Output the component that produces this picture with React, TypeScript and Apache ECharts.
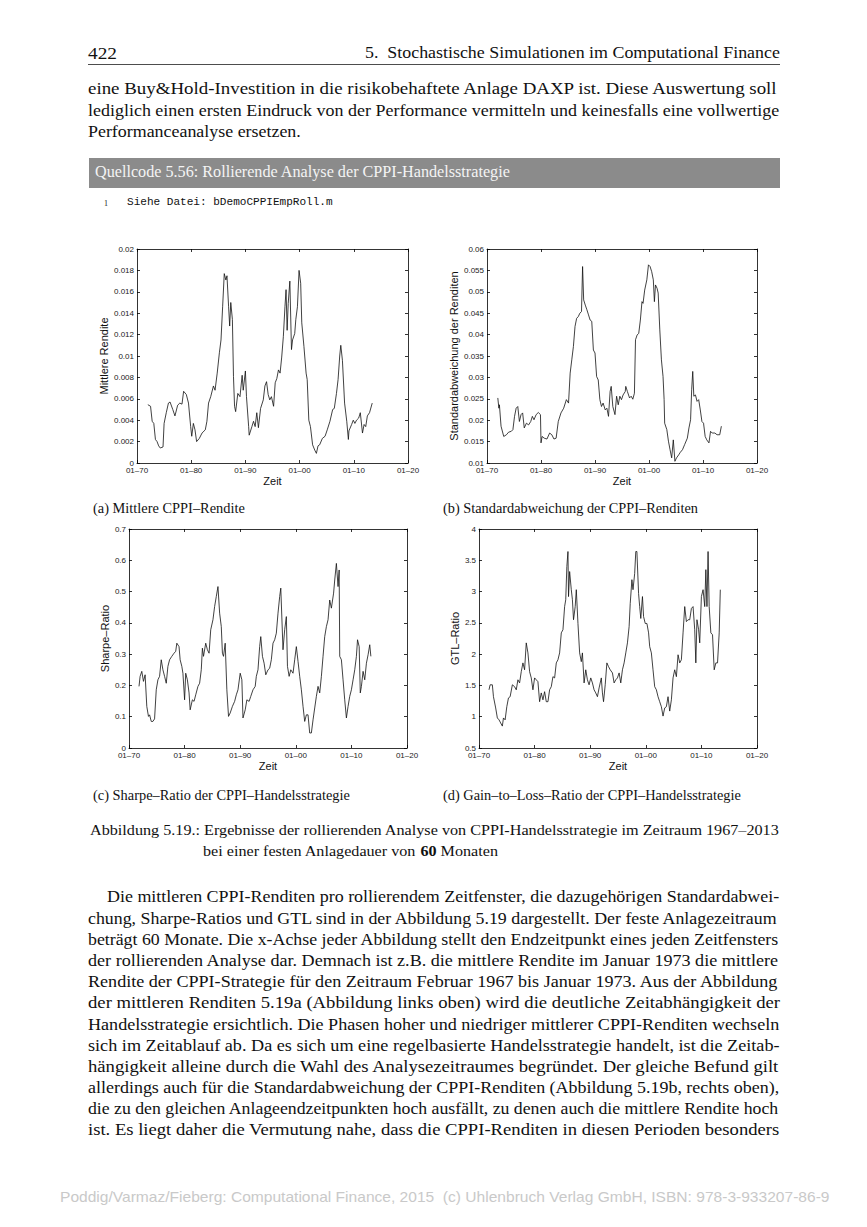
import React, { useEffect, useRef } from "react";
import * as echarts from "echarts";

// ---------- data ----------
const xTickLabels = ["01–70", "01–80", "01–90", "01–00", "01–10", "01–20"];

const yearsA = [1972.0,1972.5,1972.8,1973.1,1973.4,1973.7,1974.0,1974.3,1974.8,1975.0,1975.4,1975.8,1976.1,1976.6,1977.0,1977.5,1977.9,1978.3,1978.6,1979.1,1979.5,1979.9,1980.1,1980.4,1980.7,1981.0,1981.5,1982.0,1982.6,1982.9,1983.2,1983.6,1984.1,1984.4,1984.8,1985.2,1985.5,1985.8,1986.1,1986.4,1986.6,1986.9,1987.1,1987.3,1987.6,1987.8,1988.0,1988.2,1988.6,1989.0,1989.4,1989.6,1990.0,1990.2,1990.6,1990.7,1991.2,1991.5,1991.8,1992.1,1992.4,1992.8,1993.3,1993.6,1993.9,1994.2,1994.5,1994.8,1995.2,1995.5,1995.8,1996.1,1996.4,1996.7,1997.0,1997.3,1997.5,1997.7,1997.9,1998.2,1998.5,1998.7,1999.1,1999.3,1999.6,1999.9,2000.2,2000.4,2000.8,2001.2,2001.4,2001.7,2002.0,2002.4,2002.8,2003.1,2003.4,2003.7,2004.2,2004.7,2005.1,2005.6,2006.1,2006.4,2006.8,2007.1,2007.4,2007.6,2007.9,2008.0,2008.3,2008.7,2009.0,2009.1,2009.6,2009.9,2010.2,2010.5,2010.9,2011.2,2011.6,2011.9,2012.2,2012.5,2012.9,2013.4];
const renditeA = [0.00545,0.0053,0.0039,0.0037,0.0022,0.002,0.0016,0.0014,0.0015,0.0037,0.0047,0.0056,0.0057,0.005,0.0044,0.0054,0.0056,0.0055,0.0067,0.0064,0.0056,0.0034,0.0025,0.0037,0.0031,0.002,0.0023,0.0028,0.0031,0.0039,0.0056,0.0062,0.0072,0.0068,0.0084,0.0103,0.0115,0.0146,0.0177,0.0171,0.0175,0.0146,0.0128,0.015,0.0134,0.0081,0.0053,0.0048,0.0065,0.0062,0.0082,0.0068,0.0086,0.0062,0.0034,0.0026,0.0034,0.0039,0.0034,0.0047,0.0033,0.0051,0.0059,0.0072,0.0076,0.0064,0.0059,0.0062,0.0053,0.0075,0.0079,0.0087,0.0084,0.0099,0.0118,0.0146,0.0162,0.0124,0.0149,0.017,0.0106,0.0115,0.0121,0.0134,0.0146,0.018,0.0168,0.0131,0.0109,0.0084,0.0078,0.004,0.0034,0.0017,0.0012,0.0009,0.0016,0.0017,0.0023,0.0025,0.0031,0.0039,0.005,0.0051,0.0065,0.0078,0.01,0.011,0.0096,0.0086,0.0056,0.0039,0.0022,0.003,0.0036,0.004,0.0037,0.004,0.0042,0.0047,0.0028,0.0036,0.0034,0.0044,0.0047,0.0056];

const yearsB = [1972.0,1972.2,1972.3,1972.6,1973.1,1973.6,1974.0,1974.5,1974.8,1975.1,1975.4,1975.7,1976.0,1976.3,1976.6,1976.9,1977.3,1977.7,1978.1,1978.4,1978.7,1979.1,1979.5,1979.9,1980.0,1980.2,1980.6,1981.1,1981.6,1982.0,1982.4,1982.8,1983.2,1983.7,1984.2,1984.7,1985.1,1985.4,1985.7,1986.0,1986.3,1986.6,1986.9,1987.2,1987.5,1987.7,1987.9,1988.2,1988.5,1988.8,1989.1,1989.4,1989.7,1990.0,1990.3,1990.6,1990.9,1991.2,1991.5,1991.9,1992.2,1992.5,1992.8,1993.0,1993.3,1993.7,1994.0,1994.3,1994.6,1994.9,1995.2,1995.6,1995.7,1996.0,1996.4,1996.7,1997.0,1997.3,1997.5,1997.8,1998.1,1998.4,1998.7,1998.9,1999.2,1999.6,1999.9,2000.2,2000.5,2000.8,2001.0,2001.2,2001.5,2001.7,2002.0,2002.3,2002.6,2002.8,2002.9,2003.3,2003.6,2003.9,2004.2,2004.5,2004.8,2005.1,2005.5,2005.8,2006.2,2006.6,2007.1,2007.4,2007.7,2007.9,2008.1,2008.3,2008.6,2008.9,2009.2,2009.5,2009.8,2010.1,2010.4,2010.7,2011.1,2011.4,2011.7,2012.2,2012.6,2013.1,2013.4];
const stdB = [0.0252,0.0228,0.0236,0.0186,0.0162,0.0166,0.0172,0.0174,0.0178,0.0209,0.0228,0.0232,0.0197,0.0213,0.0217,0.0182,0.0193,0.0189,0.0197,0.0209,0.0201,0.0213,0.0218,0.0213,0.0147,0.0162,0.0158,0.0156,0.017,0.0166,0.0156,0.0158,0.0197,0.0217,0.0228,0.0248,0.024,0.031,0.0341,0.0372,0.0419,0.0438,0.0442,0.045,0.0454,0.0559,0.0481,0.0469,0.0458,0.0446,0.0434,0.0431,0.0364,0.0357,0.0302,0.0294,0.0248,0.0232,0.024,0.0224,0.0228,0.0209,0.0267,0.0279,0.0232,0.0213,0.0256,0.0236,0.0256,0.0248,0.0259,0.0267,0.0279,0.0267,0.0252,0.0256,0.0249,0.0263,0.0388,0.0399,0.0403,0.0434,0.0477,0.0473,0.0504,0.0528,0.0563,0.0559,0.0547,0.0528,0.0477,0.0516,0.0508,0.0497,0.0411,0.0341,0.0302,0.0248,0.0193,0.0178,0.0151,0.0131,0.0112,0.0154,0.0104,0.0112,0.0119,0.0125,0.0131,0.0143,0.0158,0.0182,0.0201,0.0271,0.0314,0.0256,0.0259,0.0244,0.0248,0.0224,0.0197,0.0193,0.0162,0.0154,0.0147,0.0174,0.017,0.017,0.0166,0.0166,0.0186];

const yearsC = [1971.8,1972.0,1972.3,1972.6,1972.9,1973.2,1973.5,1973.7,1974.0,1974.3,1974.6,1974.9,1975.2,1975.5,1975.8,1976.1,1976.4,1976.7,1977.0,1977.3,1977.7,1978.1,1978.4,1978.6,1979.0,1979.2,1979.5,1979.7,1980.0,1980.2,1980.5,1980.8,1981.0,1981.4,1981.7,1982.0,1982.4,1982.7,1983.0,1983.2,1983.4,1983.8,1984.1,1984.4,1984.7,1985.1,1985.4,1985.7,1986.0,1986.3,1986.6,1986.8,1987.0,1987.3,1987.6,1987.9,1988.2,1988.6,1989.0,1989.3,1989.6,1990.0,1990.3,1990.5,1990.9,1991.2,1991.6,1991.9,1992.3,1992.7,1992.9,1993.2,1993.5,1993.7,1994.0,1994.3,1994.6,1995.0,1995.3,1995.6,1995.9,1996.2,1996.5,1996.8,1997.1,1997.3,1997.7,1998.0,1998.3,1998.5,1998.8,1999.1,1999.5,1999.8,2000.1,2000.4,2000.7,2001.0,2001.3,2001.6,2001.9,2002.2,2002.5,2002.8,2003.1,2003.4,2003.7,2004.0,2004.3,2004.6,2004.9,2005.2,2005.5,2005.8,2006.1,2006.4,2006.8,2007.0,2007.3,2007.6,2007.8,2007.9,2008.2,2008.5,2008.8,2009.1,2009.4,2009.7,2010.0,2010.3,2010.6,2010.9,2011.1,2011.4,2011.6,2011.8,2012.1,2012.4,2012.7,2013.0,2013.3,2013.5];
const sharpeC = [0.197,0.229,0.245,0.213,0.234,0.133,0.101,0.106,0.085,0.085,0.093,0.186,0.218,0.229,0.282,0.25,0.229,0.207,0.261,0.282,0.293,0.303,0.309,0.335,0.324,0.282,0.261,0.239,0.154,0.239,0.218,0.176,0.122,0.154,0.149,0.17,0.197,0.207,0.25,0.319,0.293,0.335,0.314,0.303,0.378,0.41,0.452,0.484,0.516,0.431,0.388,0.303,0.293,0.335,0.186,0.101,0.112,0.133,0.149,0.17,0.186,0.239,0.218,0.096,0.122,0.154,0.149,0.165,0.186,0.197,0.229,0.25,0.324,0.356,0.293,0.271,0.234,0.25,0.255,0.282,0.335,0.346,0.367,0.431,0.484,0.511,0.314,0.378,0.42,0.261,0.229,0.25,0.239,0.282,0.324,0.277,0.229,0.186,0.133,0.085,0.106,0.106,0.048,0.048,0.09,0.128,0.165,0.197,0.176,0.229,0.293,0.356,0.388,0.41,0.473,0.447,0.495,0.537,0.59,0.516,0.569,0.293,0.282,0.218,0.154,0.096,0.133,0.165,0.186,0.218,0.25,0.293,0.346,0.324,0.176,0.197,0.245,0.218,0.271,0.298,0.33,0.293];

const yearsD = [1971.8,1972.0,1972.4,1972.6,1973.0,1973.3,1973.6,1973.9,1974.2,1974.4,1974.7,1975.0,1975.3,1975.6,1976.0,1976.4,1976.7,1977.0,1977.3,1977.6,1977.9,1978.2,1978.5,1978.8,1979.1,1979.4,1979.7,1980.0,1980.3,1980.6,1980.9,1981.2,1981.5,1981.8,1982.1,1982.4,1982.7,1983.0,1983.3,1983.6,1983.9,1984.2,1984.5,1984.8,1985.1,1985.4,1985.6,1985.8,1986.0,1986.1,1986.3,1986.6,1986.8,1987.0,1987.3,1987.5,1987.8,1988.1,1988.4,1988.6,1988.9,1989.2,1989.5,1989.8,1990.1,1990.4,1990.7,1991.0,1991.3,1991.6,1992.0,1992.2,1992.4,1992.7,1993.0,1993.3,1993.6,1994.0,1994.3,1994.6,1994.9,1995.2,1995.5,1995.8,1996.1,1996.4,1996.7,1997.0,1997.2,1997.5,1997.7,1998.0,1998.2,1998.4,1998.7,1998.9,1999.1,1999.4,1999.6,1999.9,2000.2,2000.5,2000.7,2001.0,2001.3,2001.6,2001.9,2002.2,2002.5,2002.8,2003.1,2003.4,2003.7,2004.0,2004.3,2004.6,2004.9,2005.2,2005.5,2005.8,2006.1,2006.4,2006.7,2007.0,2007.3,2007.6,2007.9,2008.2,2008.5,2008.8,2009.0,2009.2,2009.5,2009.7,2010.0,2010.3,2010.6,2010.8,2011.0,2011.2,2011.4,2011.7,2012.0,2012.3,2012.6,2012.9,2013.2,2013.4];
const gtlD = [1.43,1.51,1.51,1.32,1.14,0.98,0.95,0.9,0.85,0.98,0.95,1.16,1.3,1.32,1.51,1.48,1.43,1.59,1.54,1.72,1.86,1.75,2.18,2.02,1.72,1.62,1.43,1.62,1.59,1.56,1.24,1.38,1.27,1.4,1.24,1.24,1.43,1.48,1.64,1.62,1.86,1.91,2.02,2.34,2.39,2.76,2.87,3.4,3.64,2.92,3.32,3.03,2.87,2.55,2.76,3.03,2.49,2.02,1.88,2.02,1.54,1.75,1.59,1.51,1.62,1.54,1.43,1.38,1.32,1.46,1.62,1.38,1.24,1.51,1.86,1.8,1.75,1.7,1.54,1.59,1.62,1.7,1.54,1.75,1.86,2.02,2.18,2.44,2.81,3.19,3.03,3.29,3.64,3.64,2.97,2.76,2.57,2.92,2.6,2.49,2.49,2.34,2.12,2.02,1.75,1.48,1.43,1.32,1.24,1.16,1.01,1.14,1.16,1.32,1.09,1.27,1.62,1.75,1.64,1.99,1.86,1.91,2.34,2.76,2.52,2.55,2.55,2.73,2.76,2.39,1.86,2.55,2.39,2.18,2.92,3.03,2.76,3.35,2.76,3.64,2.76,2.34,2.31,1.75,1.86,1.86,2.34,3.03];

const axisNames = ["Mittlere Rendite", "Standardabweichung der Renditen", "Sharpe–Ratio", "GTL–Ratio"];
const yRanges = [
  { min: 0, max: 0.02, interval: 0.002 },
  { min: 0.01, max: 0.06, interval: 0.005 },
  { min: 0, max: 0.7, interval: 0.1 },
  { min: 0.5, max: 4, interval: 0.5 },
];

const headerLeft = "422";
const headerRight = "5.  Stochastische Simulationen im Computational Finance";
const introLines = [
  "eine Buy&Hold-Investition in die risikobehaftete Anlage DAXP ist. Diese Auswertung soll",
  "lediglich einen ersten Eindruck von der Performance vermitteln und keinesfalls eine vollwertige",
  "Performanceanalyse ersetzen.",
];
const codeTitle = "Quellcode 5.56: Rollierende Analyse der CPPI-Handelsstrategie";
const codeLine = "Siehe Datei: bDemoCPPIEmpRoll.m";
const subCaptions = [
  "(a) Mittlere CPPI–Rendite",
  "(b) Standardabweichung der CPPI–Renditen",
  "(c) Sharpe–Ratio der CPPI–Handelsstrategie",
  "(d) Gain–to–Loss–Ratio der CPPI–Handelsstrategie",
];
const figCaption1 = "Abbildung 5.19.: Ergebnisse der rollierenden Analyse von CPPI-Handelsstrategie im Zeitraum 1967–2013";
const figCaption2 = ["bei einer festen Anlagedauer von ", "60", " Monaten"];
const bodyLines = [
  "Die mittleren CPPI-Renditen pro rollierendem Zeitfenster, die dazugehörigen Standardabwei-",
  "chung, Sharpe-Ratios und GTL sind in der Abbildung 5.19 dargestellt. Der feste Anlagezeitraum",
  "beträgt 60 Monate. Die x-Achse jeder Abbildung stellt den Endzeitpunkt eines jeden Zeitfensters",
  "der rollierenden Analyse dar. Demnach ist z.B. die mittlere Rendite im Januar 1973 die mittlere",
  "Rendite der CPPI-Strategie für den Zeitraum Februar 1967 bis Januar 1973. Aus der Abbildung",
  "der mittleren Renditen 5.19a (Abbildung links oben) wird die deutliche Zeitabhängigkeit der",
  "Handelsstrategie ersichtlich. Die Phasen hoher und niedriger mittlerer CPPI-Renditen wechseln",
  "sich im Zeitablauf ab. Da es sich um eine regelbasierte Handelsstrategie handelt, ist die Zeitab-",
  "hängigkeit alleine durch die Wahl des Analysezeitraumes begründet. Der gleiche Befund gilt",
  "allerdings auch für die Standardabweichung der CPPI-Renditen (Abbildung 5.19b, rechts oben),",
  "die zu den gleichen Anlageendzeitpunkten hoch ausfällt, zu denen auch die mittlere Rendite hoch",
  "ist. Es liegt daher die Vermutung nahe, dass die CPPI-Renditen in diesen Perioden besonders",
];
const footer = "Poddig/Varmaz/Fieberg: Computational Finance, 2015  (c) Uhlenbruch Verlag GmbH, ISBN: 978-3-933207-86-9";

// ---------- layout ----------
const SERIF = "'Liberation Serif', 'Times New Roman', serif";
const SANS = "'Liberation Sans', Arial, sans-serif";
const MONO = "'Liberation Mono', 'Courier New', monospace";

const grids = [
  { left: 137, top: 249, width: 271, height: 214, nameGap: 28 },
  { left: 487, top: 249, width: 270, height: 214, nameGap: 28 },
  { left: 129, top: 529, width: 278, height: 219, nameGap: 18 },
  { left: 479, top: 529, width: 278, height: 219, nameGap: 18 },
];

let measureCtx: CanvasRenderingContext2D | null = null;
function measure(text: string, size: number, family: string, weight = "normal") {
  if (!measureCtx) measureCtx = document.createElement("canvas").getContext("2d");
  measureCtx!.font = `${weight} ${size}px ${family}`;
  return measureCtx!.measureText(text).width;
}

function fitText(text: string, x: number, y: number, width: number | null, size: number, family: string, fill = "#111", weight = "normal") {
  const w = measure(text, size, family, weight);
  return {
    type: "text",
    x,
    y,
    scaleX: width ? width / w : 1,
    silent: true,
    style: {
      text,
      x: 0,
      y: 0,
      fill,
      fontSize: size,
      fontFamily: family,
      fontWeight: weight,
      textAlign: "left",
      textVerticalAlign: "middle",
    },
  };
}

const fmtNum = (v: number) => String(parseFloat(v.toFixed(6)));

export default function App() {
  const ref = useRef<HTMLDivElement>(null);
  useEffect(() => {
    if (!ref.current) return;
    const chart = echarts.init(ref.current, null, { renderer: "svg", width: 867, height: 1227 });

    const seriesData = [
      yearsA.map((t, i) => [t, renditeA[i]]),
      yearsB.map((t, i) => [t, stdB[i]]),
      yearsC.map((t, i) => [t, sharpeC[i]]),
      yearsD.map((t, i) => [t, gtlD[i]]),
    ];

    const axisLine = { onZero: false, lineStyle: { color: "#000", width: 0.8 } };
    const axisTick = { inside: true, length: 3, lineStyle: { color: "#000", width: 0.8 } };
    const labelStyle = { fontSize: 8, fontFamily: SANS, color: "#222" };

    const xAxis: any[] = [];
    const yAxis: any[] = [];
    const series: any[] = [];
    grids.forEach((g, i) => {
      xAxis.push({
        gridIndex: i, type: "value", position: "bottom", min: 1970, max: 2020, interval: 10,
        axisLine, axisTick, splitLine: { show: false },
        axisLabel: { ...labelStyle, margin: 3, formatter: (v: number) => xTickLabels[Math.round((v - 1970) / 10)] },
        name: "Zeit", nameLocation: "middle", nameGap: 12,
        nameTextStyle: { fontSize: 11, fontFamily: SANS, color: "#111" },
      });
      xAxis.push({
        gridIndex: i, type: "value", position: "top", min: 1970, max: 2020, interval: 10,
        axisLine, axisTick, splitLine: { show: false }, axisLabel: { show: false },
      });
      const r = yRanges[i];
      yAxis.push({
        gridIndex: i, type: "value", position: "left", min: r.min, max: r.max, interval: r.interval,
        axisLine, axisTick, splitLine: { show: false },
        axisLabel: { ...labelStyle, margin: 3, formatter: fmtNum },
        name: axisNames[i], nameLocation: "middle", nameGap: g.nameGap, nameRotate: 90,
        nameTextStyle: { fontSize: 11, fontFamily: SANS, color: "#111" },
      });
      yAxis.push({
        gridIndex: i, type: "value", position: "right", min: r.min, max: r.max, interval: r.interval,
        axisLine, axisTick, splitLine: { show: false }, axisLabel: { show: false },
      });
      series.push({
        type: "line", xAxisIndex: 2 * i, yAxisIndex: 2 * i, data: seriesData[i],
        showSymbol: false, symbol: "none", lineStyle: { color: "#111", width: 0.8 },
      });
    });

    const graphic: any[] = [];
    // header
    graphic.push(fitText(headerLeft, 88, 53, 29, 16.5, SERIF));
    graphic.push(fitText(headerRight, 365, 53, 415, 16.5, SERIF));
    graphic.push({ type: "line", silent: true, shape: { x1: 88, y1: 64.5, x2: 780, y2: 64.5 }, style: { stroke: "#000", lineWidth: 0.7 } });
    // intro
    const introY = [88, 110, 131];
    introLines.forEach((t, i) => {
      graphic.push(fitText(t, 88, introY[i], i < 2 ? 692 : 213, 17, SERIF));
    });
    // code box
    graphic.push({ type: "rect", silent: true, shape: { x: 89, y: 158, width: 691, height: 30 }, style: { fill: "#8b8b8b" } });
    graphic.push(fitText(codeTitle, 95, 172, 416, 16, SERIF, "#f4f4f4"));
    graphic.push(fitText("1", 104, 203, null, 8, SERIF, "#222"));
    graphic.push(fitText(codeLine, 127, 202, 206, 11, MONO, "#111"));
    // sub captions
    graphic.push(fitText(subCaptions[0], 93, 508, 152, 14.5, SERIF));
    graphic.push(fitText(subCaptions[1], 443, 508, 255, 14.5, SERIF));
    graphic.push(fitText(subCaptions[2], 93, 795, 257, 14.5, SERIF));
    graphic.push(fitText(subCaptions[3], 443, 795, 298, 14.5, SERIF));
    // figure caption
    graphic.push(fitText(figCaption1, 90, 830, 690, 15, SERIF));
    {
      const w0 = measure(figCaption2[0], 15, SERIF);
      const w1 = measure(figCaption2[1], 15, SERIF, "bold");
      const w2 = measure(figCaption2[2], 15, SERIF);
      const s = 295 / (w0 + w1 + w2);
      const t0 = fitText(figCaption2[0], 203, 851, w0 * s, 15, SERIF);
      const t1 = fitText(figCaption2[1], 203 + w0 * s, 851, w1 * s, 15, SERIF, "#111", "bold");
      const t2 = fitText(figCaption2[2], 203 + (w0 + w1) * s, 851, w2 * s, 15, SERIF);
      graphic.push(t0, t1, t2);
    }
    // body
    bodyLines.forEach((t, i) => {
      const x = i === 0 ? 107 : 88;
      graphic.push(fitText(t, x, 896.5 + i * 21.2, 780 - x, 17, SERIF));
    });
    // footer
    graphic.push(fitText(footer, 60, 1197, 770, 14, SANS, "#c9c9c9"));

    chart.setOption({
      animation: false,
      backgroundColor: "#fff",
      grid: grids.map((g) => ({ left: g.left, top: g.top, width: g.width, height: g.height, containLabel: false })),
      xAxis,
      yAxis,
      series,
      graphic,
    });
    return () => chart.dispose();
  }, []);
  return <div ref={ref} style={{ position: "absolute", left: 0, top: 0, width: 867, height: 1227 }} />;
}
